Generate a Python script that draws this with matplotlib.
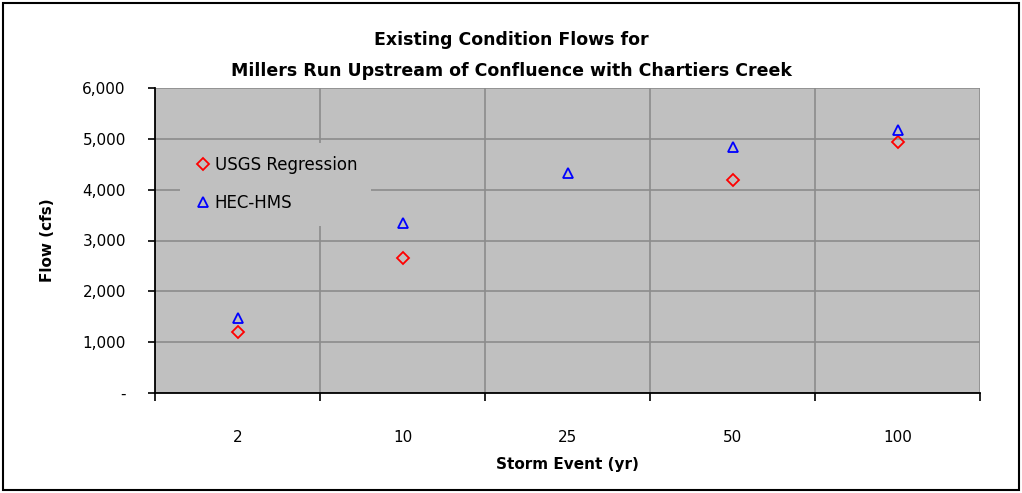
import matplotlib
matplotlib.use("Agg")
import matplotlib.pyplot as plt
import numpy as np
from matplotlib.patches import Rectangle
from matplotlib.ticker import FuncFormatter

plt.rcParams["font.family"] = ["DejaVu Sans"]

# storm events (categories) and peak flows in cfs
events = ["2", "10", "25", "50", "100"]
usgs = [1200, 2650, np.nan, 4200, 4940]
hec_hms = [1470, 3340, 4330, 4830, 5170]

W, H = 1022, 493
fig = plt.figure(figsize=(W / 100, H / 100), dpi=100)
fig.patches.append(Rectangle((3 / W, 3 / H), 1 - 6 / W, 1 - 6 / H,
                             transform=fig.transFigure, fill=False,
                             edgecolor="black", linewidth=1.5))

ax = fig.add_axes([155 / W, 1 - 393 / H, 825 / W, 305 / H])
ax.set_facecolor("#c0c0c0")

x = np.arange(len(events))
ax.plot(x, usgs, ls="none", marker="D", markersize=6, mfc="none",
        mec="red", mew=1.3, label="USGS Regression")
ax.plot(x, hec_hms, ls="none", marker="^", markersize=7, mfc="none",
        mec="blue", mew=1.3, label="HEC-HMS")

ax.set_xlim(-0.5, len(events) - 0.5)
ax.set_ylim(0, 6000)
ax.set_yticks(np.arange(0, 6001, 1000))
ax.yaxis.set_major_formatter(FuncFormatter(
    lambda v, p: "-" if v == 0 else f"{int(v):,}"))
ax.set_xticks(x)
ax.set_xticklabels(events)
ax.set_xticks(np.arange(-0.5, len(events)), minor=True)
ax.tick_params(axis="x", which="major", length=0, pad=27, labelsize=11)
ax.tick_params(axis="x", which="minor", length=6, width=1.2, direction="out")
ax.tick_params(axis="y", length=5, width=1.2, direction="out", labelsize=11,
               pad=16)

ax.grid(True, axis="y", color="#8c8c8c", linewidth=1.2)
ax.grid(True, axis="x", which="minor", color="#8c8c8c", linewidth=1.2)
ax.set_axisbelow(True)
for side in ["top", "right"]:
    ax.spines[side].set_visible(False)
ax.spines["left"].set_linewidth(1.3)
ax.spines["bottom"].set_linewidth(1.3)

ax.set_xlabel("Storm Event (yr)", fontsize=11, fontweight="bold", labelpad=8)
ax.set_ylabel("Flow (cfs)", fontsize=11, fontweight="bold", labelpad=20)
fig.text(0.5, 1 - 40 / H, "Existing Condition Flows for", ha="center",
         va="center", fontsize=12.5, fontweight="bold")
fig.text(0.5, 1 - 71 / H,
         "Millers Run Upstream of Confluence with Chartiers Creek",
         ha="center", va="center", fontsize=12.5, fontweight="bold")

leg = ax.legend(loc="upper left", bbox_to_anchor=(0.03, 0.82), frameon=True,
                fontsize=12, handletextpad=0.1, handlelength=1.2,
                borderpad=0.8, labelspacing=1.2, borderaxespad=0)
leg.get_frame().set_facecolor("#c0c0c0")
leg.get_frame().set_edgecolor("none")
leg.get_frame().set_alpha(1)
leg.get_frame().set_boxstyle("square", pad=0)

fig.savefig("out.png", dpi=100)
